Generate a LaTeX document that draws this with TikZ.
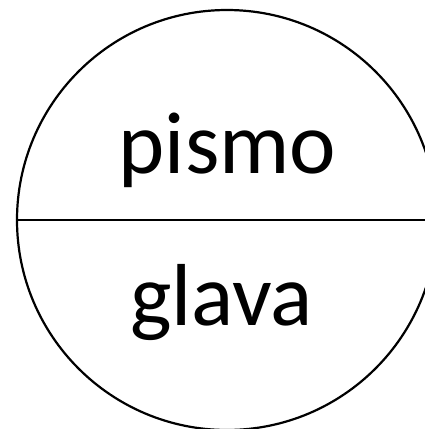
\documentclass[tikz,border=0pt]{standalone}
\usepackage{fontspec}
\setmainfont{Carlito}
\usepackage{tikz}
\usetikzlibrary{positioning}

\begin{document}
\begin{tikzpicture}[x=1pt, y=-1pt,
    part/.style={line width=2.2pt},
    word/.style={anchor=base, inner sep=0pt, font=\fontsize{88}{100}\selectfont}]
        \useasboundingbox (0,0) rectangle (425,429);
        \clip (0,0) rectangle (425,429);
        \node[part, circle, draw, minimum size=420pt, inner sep=0pt] (symbol) at (227,220) {};
        \draw[part] (symbol.west) -- (symbol.east);
        \node[word] (top) at (227.5,173) {pismo};
        \node[word] (bottom) at (221.5,325) {glava};
      \end{tikzpicture}
\end{document}
